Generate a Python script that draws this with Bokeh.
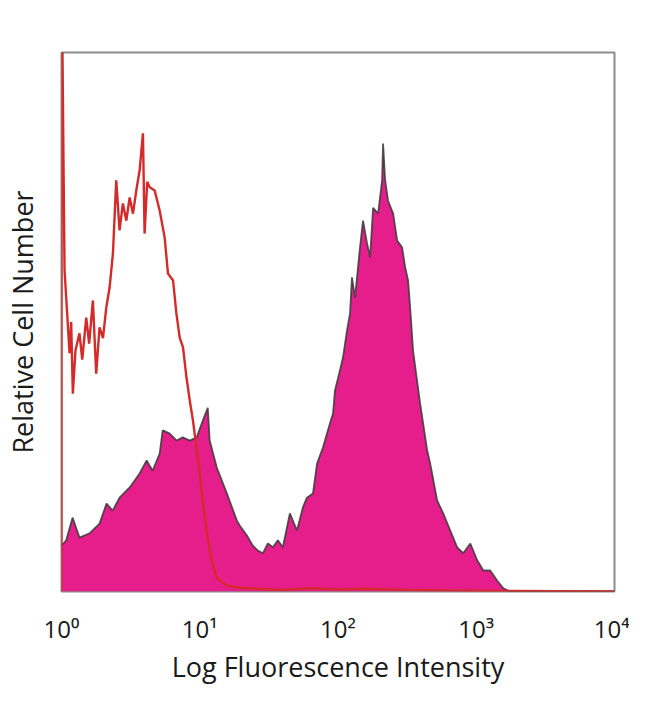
import numpy as np
from bokeh.plotting import figure
from bokeh.models import Range1d, FixedTicker, ColumnDataSource
from bokeh.embed import file_html
from bokeh.resources import INLINE

# Tick positions and labels
tick_values = [1, 10, 100, 1000, 10000]
tick_labels = ["10⁰", "10¹", "10²", "10³", "10⁴"]

# Isotype control (red line): log10 intensity and relative count
red_log = [0.0, 0.0, 0.007, 0.022, 0.040, 0.058, 0.070, 0.082, 0.101, 0.130, 0.150, 0.179,
           0.200, 0.227, 0.251, 0.275, 0.300, 0.324, 0.348, 0.372, 0.396, 0.420, 0.444,
           0.469, 0.493, 0.517, 0.541, 0.565, 0.589, 0.601, 0.620, 0.638, 0.674, 0.710,
           0.746, 0.770, 0.807, 0.831, 0.855, 0.879, 0.904, 0.928, 0.951, 0.976, 1.000,
           1.024, 1.049, 1.085, 1.121, 1.193, 1.290, 1.400, 1.600, 1.800, 2.000, 2.200,
           2.500, 2.800, 3.200, 4.000]
red_val = [0.0, 100.0, 100.0, 59.6, 52.0, 44.2, 50.0, 36.7, 44.7, 47.9, 43.0, 50.8,
           46.0, 54.0, 40.4, 49.0, 47.0, 52.7, 56.4, 62.7, 76.3, 67.0, 72.0,
           68.8, 73.1, 70.1, 74.4, 78.1, 85.0, 66.4, 76.0, 75.0, 74.4, 70.7,
           65.7, 59.0, 57.7, 51.6, 47.1, 45.3, 39.7, 35.4, 31.7, 26.7, 21.9,
           16.3, 11.3, 5.8, 2.6, 1.1, 0.7, 0.5, 0.3, 0.6, 0.4, 0.5,
           0.3, 0.2, 0.1, 0.0]

# Stained sample (filled magenta histogram)
mag_log = [0.0, 0.034, 0.080, 0.130, 0.203, 0.275, 0.326, 0.370, 0.420, 0.493, 0.565,
           0.616, 0.659, 0.710, 0.732, 0.783, 0.833, 0.877, 0.928, 0.978, 1.022, 1.058,
           1.072, 1.123, 1.196, 1.268, 1.290, 1.341, 1.384, 1.420, 1.457, 1.493, 1.529,
           1.565, 1.601, 1.652, 1.703, 1.746, 1.775, 1.819, 1.848, 1.891, 1.942, 1.964,
           1.978, 2.014, 2.036, 2.065, 2.087, 2.101, 2.123, 2.159, 2.181, 2.210, 2.232,
           2.254, 2.290, 2.319, 2.326, 2.341, 2.362, 2.399, 2.428, 2.464, 2.486, 2.507,
           2.522, 2.543, 2.572, 2.594, 2.645, 2.667, 2.717, 2.761, 2.812, 2.862, 2.906,
           2.957, 3.007, 3.051, 3.101, 3.152, 3.196, 3.246, 4.000]
mag_val = [8.5, 9.5, 13.7, 10.0, 10.8, 12.6, 16.3, 15.0, 17.4, 19.3, 21.9,
           24.3, 22.4, 25.6, 29.9, 29.3, 28.0, 28.6, 28.0, 28.6, 31.7, 34.1,
           28.0, 23.0, 18.2, 13.2, 12.2, 10.4, 8.5, 7.6, 7.1, 8.9, 8.2,
           9.5, 8.2, 14.5, 11.3, 15.6, 17.4, 18.2, 23.7, 26.7, 31.2, 33.0,
           37.3, 41.0, 43.4, 48.4, 51.6, 58.3, 54.5, 63.8, 68.8, 64.6, 62.0,
           71.2, 70.1, 76.3, 83.1, 76.3, 72.5, 70.1, 65.1, 63.8, 60.1, 57.7,
           52.7, 44.7, 39.1, 34.9, 26.2, 23.7, 16.9, 14.5, 11.3, 8.2, 7.1,
           8.9, 5.8, 3.9, 3.9, 2.0, 0.6, 0.0, 0.0]

red_src = ColumnDataSource(dict(x=10 ** np.array(red_log), y=red_val))
mag_src = ColumnDataSource(dict(x=10 ** np.array(mag_log), y=mag_val,
                                y0=np.zeros(len(mag_val))))

p = figure(width=634, height=680, x_axis_type="log",
           x_range=Range1d(1, 10000), y_range=Range1d(0, 100),
           output_backend="svg", toolbar_location=None,
           frame_width=553, frame_height=539,
           min_border_left=59, min_border_top=52, min_border_right=15,
           min_border_bottom=50)

p.varea(x="x", y1="y0", y2="y", source=mag_src, fill_color="#e61e8c")
p.line(x="x", y="y", source=mag_src, line_color="#3a3a3a", line_width=1.8, line_alpha=0.85)
p.line(x="x", y="y", source=red_src, line_color="#d42a2a", line_width=2.4)

p.grid.visible = False
p.outline_line_color = "#8c8c8c"
p.outline_line_width = 2
p.background_fill_color = "white"
p.border_fill_color = "white"

xa = p.xaxis[0]
xa.ticker = FixedTicker(ticks=tick_values)
xa.major_label_overrides = {v: l for v, l in zip(tick_values, tick_labels)}
xa.major_tick_line_color = None
xa.minor_tick_line_color = None
xa.axis_line_color = None
xa.major_label_text_font = "Open Sans"
xa.major_label_text_font_size = "24px"
xa.major_label_text_color = "#1a1a1a"
xa.major_label_standoff = 14
xa.axis_label = "Log Fluorescence Intensity"
xa.axis_label_text_font = "Open Sans"
xa.axis_label_text_font_size = "27px"
xa.axis_label_text_font_style = "normal"
xa.axis_label_text_color = "#1a1a1a"
xa.axis_label_standoff = 0

ya = p.yaxis[0]
ya.ticker = FixedTicker(ticks=[])
ya.major_tick_line_color = None
ya.minor_tick_line_color = None
ya.axis_line_color = None
ya.axis_label = "Relative Cell Number"
ya.axis_label_text_font = "Open Sans"
ya.axis_label_text_font_size = "27px"
ya.axis_label_text_font_style = "normal"
ya.axis_label_text_color = "#1a1a1a"
ya.axis_label_standoff = 21

open("out.html", "w").write(file_html(p, INLINE))
